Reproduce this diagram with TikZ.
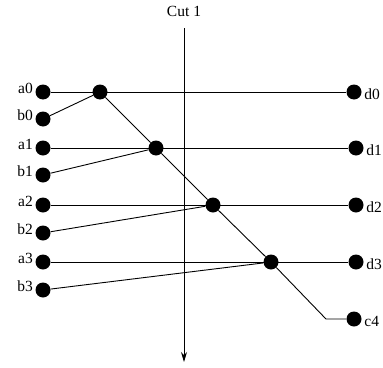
\documentclass[tikz,border=0pt]{standalone}
\usepackage{fontspec}
\setmainfont{Liberation Serif}
\usetikzlibrary{arrows.meta}
\begin{document}
\begin{tikzpicture}[x=1pt,y=-1pt,
  dot/.style={circle,fill=black,inner sep=0pt,minimum size=15pt},
  wire/.style={draw=black,line width=0.9pt},
  lbl/.style={font=\fontsize{15.5}{17}\selectfont,inner sep=0pt}]
\useasboundingbox (0,0) rectangle (383,367);
% inputs
\foreach \n/\y in {a0/92,b0/119,a1/148,b1/175,a2/205,b2/233,a3/262,b3/290}{
  \node[dot] (\n) at (43,\y) {};
  \node[lbl,anchor=east] at (33,\y-4) {\n};
}
% carry nodes
\node[dot] (k1) at (100,92) {};
\node[dot] (k2) at (156,148) {};
\node[dot] (k3) at (213,205) {};
\node[dot] (k4) at (271,262) {};
% outputs
\node[dot] (d0) at (354,92) {};
\node[dot] (d1) at (356,148) {};
\node[dot] (d2) at (356,205) {};
\node[dot] (d3) at (356,262) {};
\node[dot] (c4) at (354,319) {};
\foreach \n in {d0,d1,d2,d3,c4}{
  \node[lbl,anchor=west] at ([xshift=2.5pt,yshift=-2.5pt]\n.east) {\n};
}
\coordinate (bend) at (326,319);
% wires
\draw[wire] (a0) -- (d0);
\draw[wire] (a1) -- (d1);
\draw[wire] (a2) -- (d2);
\draw[wire] (a3) -- (d3);
\draw[wire] (b0) -- (k1);
\draw[wire] (b1) -- (k2);
\draw[wire] (b2) -- (k3);
\draw[wire] (b3) -- (k4);
\draw[wire] (k1) -- (k2) -- (k3) -- (k4) -- (bend) -- (c4);
% cut line
\coordinate (ctop) at (184,28);
\coordinate (cbot) at (184,362);
\draw[wire,-{Stealth[length=10pt,width=6pt]}] (ctop) -- (cbot);
\node[lbl] (cutlabel) at (184,11) {Cut 1};
\end{tikzpicture}
\end{document}
